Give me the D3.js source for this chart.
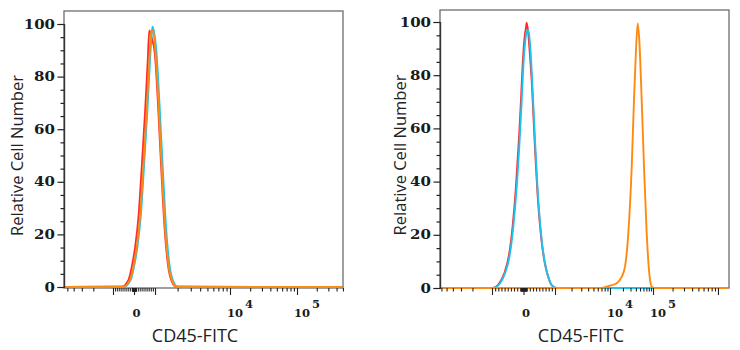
<!DOCTYPE html>
<html>
<head>
<meta charset="utf-8">
<script src="https://cdn.jsdelivr.net/npm/d3@7"></script>
<style>
  html, body { margin: 0; padding: 0; background: #fff; }
  svg { display: block; }
</style>
</head>
<body>
<svg id="chart" width="740" height="350"></svg>
<script>
// ---- data (x = fluorescence value, y = % of max) ----
const yMajorTicks = [0, 20, 40, 60, 80, 100];
const yMinorTicks = [5, 10, 15, 25, 30, 35, 45, 50, 55, 65, 70, 75, 85, 90, 95];
const xTickLabels = [
  { value: 0, base: '0', exp: '' },
  { value: 1e4, base: '10', exp: '4' },
  { value: 1e5, base: '10', exp: '5' }
];
const xMajorTicks = [-1e3, 0, 1e3, 1e4, 1e5, 1e6];
const minorMult = [2, 3, 4, 5, 6, 7, 8, 9];
const minorDecades = [10, 100, 1e3, 1e4, 1e5];
const xLabel = 'CD45-FITC';
const yLabel = 'Relative Cell Number';

const seriesColors = ['#ff2b2b', '#1fc2ee', '#ff8a12']; // red, cyan, orange

// left panel
const leftRed = [[-5600,0],[-581,0.1],[-262,2.7],[-105,7.7],[57,15.3],[214,26.7],[371,45.7],[533,67.3],[657,86.3],[729,97.5],[833,95],[990,89],[1090,71],[1209,45.7],[1339,22.9],[1481,9],[1644,2.7],[1918,0.1],[490000,0]];
const leftCyan = [[-5600,0],[-476,0.1],[-157,2.7],[0,7.7],[162,15.3],[319,26.7],[476,45.7],[638,67.3],[762,86.3],[843,96],[881,99],[952,97],[1041,90],[1141,71],[1266,45.7],[1402,22.9],[1551,9],[1722,2.7],[2008,0.1],[490000,0]];
const leftOrange = [[-5600,0],[-510,0.1],[-190,2.7],[-33,7.7],[129,15.3],[286,26.7],[443,45.7],[605,67.3],[729,86.3],[810,96.5],[857,97.5],[919,97],[1010,90],[1107,71],[1228,45.7],[1359,22.9],[1503,9],[1670,2.7],[1946,0.1],[490000,0]];

// right panel
const rightRed = [[-6000,0],[-985,0],[-770,1.8],[-610,5.5],[-452,13],[-347,23],[-240,38],[-135,58],[-80,70.7],[-30,83.2],[25,93],[80,98],[102,99.7],[150,96],[190,90],[265,77],[352,55.6],[460,33],[570,18],[677,9.3],[782,4.2],[892,1.1],[1070,0],[1400000,0]];
const rightCyan = [[-6000,0],[-959,0],[-746,1.8],[-587,5.5],[-429,13],[-324,23],[-216,38],[-111,58],[-57,70.7],[-6,83.2],[48,92],[102,96.4],[152,97],[206,92],[279,77],[365,55.6],[470,33],[578,18],[683,9.3],[787,4.2],[895,1.1],[1074,0],[1400000,0]];
const rightOrange = [[-6000,0],[7063,0],[10000,0.9],[14330,1.8],[18700,4.2],[22330,8],[26660,20.6],[31990,45.6],[36160,70.7],[39630,87],[44080,99.5],[47990,93.2],[54560,70.7],[61760,45.6],[71330,20.6],[81970,5.5],[93290,0.5],[105500,0],[1400000,0]];

// ---- layout ----
const panels = [
  { series: [leftRed, leftCyan, leftOrange],
    frame: { x0: 64, x1: 343, y0: 11, y1: 288 }, yRange: [287, 24],
    tKnots: [-3.75, -3, 0, 3, 4, 5, 5.7], pxKnots: [64, 113, 134, 155, 230, 297, 343],
    yLabelX: 17, xLabelX: 195 },
  { series: [rightRed, rightCyan, rightOrange],
    frame: { x0: 440, x1: 729, y0: 10, y1: 288 }, yRange: [288, 22],
    tKnots: [-3.8, -3, 0, 3, 4, 5, 6.17], pxKnots: [440, 492, 523.5, 555, 610, 653, 729],
    yLabelX: 400, xLabelX: 581 }
];

// biexponential-like display transform: linear around 0, log10 beyond ±1000
function tf(v) {
  const a = Math.abs(v);
  return a <= 1000 ? 3 * v / 1000 : Math.sign(v) * Math.log10(a);
}

const svg = d3.select('#chart');
const tickFont = '"DejaVu Serif", serif';

// minor tick values on the x axis (20..90, 200..900, ... and negatives)
const xMinorVals = [10, -10, 100, -100];
minorDecades.forEach(d => minorMult.forEach(m => { xMinorVals.push(d * m); xMinorVals.push(-d * m); }));

panels.forEach(p => {
  const f = p.frame;
  const xs = d3.scaleLinear().domain(p.tKnots).range(p.pxKnots);
  const y = d3.scaleLinear().domain([0, 100]).range(p.yRange);
  const tMin = p.tKnots[0], tMax = p.tKnots[p.tKnots.length - 1];
  const inDom = v => { const t = tf(v); return t >= tMin && t <= tMax; };

  const g = svg.append('g');

  // frame
  g.append('rect')
    .attr('x', f.x0).attr('y', f.y0)
    .attr('width', f.x1 - f.x0).attr('height', f.y1 - f.y0)
    .attr('fill', 'none').attr('stroke', '#6e6e6e').attr('stroke-width', 1.3);

  // curves
  const line = d3.line()
    .x(d => xs(tf(d[0])))
    .y(d => y(d[1]))
    .curve(d3.curveMonotoneX);
  p.series.forEach((s, i) => {
    g.append('path').datum(s)
      .attr('d', line)
      .attr('fill', 'none')
      .attr('stroke', seriesColors[i])
      .attr('stroke-width', 1.9)
      .attr('stroke-linejoin', 'round');
  });

  // y axis
  const yMinorAxis = g.append('g').attr('transform', `translate(${f.x0},0)`)
    .call(d3.axisLeft(y).tickValues(yMinorTicks).tickSize(3.5).tickFormat(''));
  const yMajorAxis = g.append('g').attr('transform', `translate(${f.x0},0)`)
    .call(d3.axisLeft(y).tickValues(yMajorTicks).tickSize(6.5).tickFormat(''));
  [yMinorAxis, yMajorAxis].forEach(a => {
    a.select('.domain').attr('stroke', '#333').attr('stroke-width', 1.2);
    a.selectAll('.tick line').attr('stroke', '#222').attr('stroke-width', 1.2);
  });

  g.selectAll('.ylab').data(yMajorTicks).enter().append('text')
    .attr('transform', d => `translate(${f.x0 - 9},${y(d) + 4.5}) scale(1.25,1)`)
    .attr('text-anchor', 'end')
    .style('font-family', tickFont)
    .style('font-weight', 'bold')
    .style('font-size', '12px')
    .attr('fill', '#1a1a1a')
    .text(d => d);

  // x axis
  const xMinorAxis = g.append('g').attr('transform', `translate(0,${f.y1})`)
    .call(d3.axisBottom(xs).tickValues(xMinorVals.filter(inDom).map(tf)).tickSize(3.5).tickFormat(''));
  const xMajorAxis = g.append('g').attr('transform', `translate(0,${f.y1})`)
    .call(d3.axisBottom(xs).tickValues(xMajorTicks.filter(inDom).map(tf)).tickSize(7).tickFormat(''));
  [xMinorAxis, xMajorAxis].forEach(a => {
    a.select('.domain').remove();
    a.selectAll('.tick line').attr('stroke', '#222').attr('stroke-width', 1.1);
  });

  xTickLabels.forEach(tl => {
    const px = xs(tf(tl.value));
    const base = g.append('text')
      .attr('x', tl.exp ? px - 3 : px + 2.5)
      .attr('y', 317)
      .attr('text-anchor', tl.exp ? 'start' : 'middle')
      .style('font-family', tickFont)
      .style('font-weight', 'bold')
      .style('font-size', '11.5px')
      .attr('fill', '#1a1a1a')
      .text(tl.base);
    if (tl.exp) {
      const w = base.node().getComputedTextLength();
      g.append('text')
        .attr('x', px - 3 + w + 2)
        .attr('y', 307.5)
        .style('font-family', tickFont)
        .style('font-weight', 'bold')
        .style('font-size', '11.5px')
        .attr('fill', '#1a1a1a')
        .text(tl.exp);
    }
  });

  // axis titles
  g.append('text')
    .attr('transform', `translate(${p.yLabelX},${(f.y0 + f.y1) / 2 + 6}) rotate(-90)`)
    .attr('text-anchor', 'middle')
    .attr('dy', '0.35em')
    .style('font-family', '"Open Sans", sans-serif')
    .style('font-size', '16.5px')
    .attr('fill', '#222')
    .text(yLabel);

  g.append('text')
    .attr('x', p.xLabelX).attr('y', 341.5)
    .attr('text-anchor', 'middle')
    .style('font-family', '"Open Sans", sans-serif')
    .style('font-size', '18px')
    .attr('fill', '#222')
    .text(xLabel);
});
</script>
</body>
</html>
